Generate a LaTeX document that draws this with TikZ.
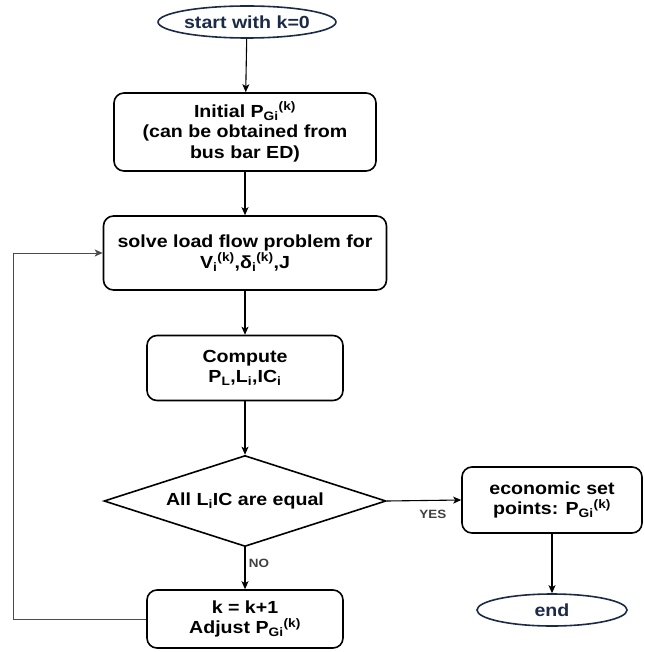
\documentclass[tikz,border=0pt]{standalone}
\usepackage{fontspec}
\setmainfont{Liberation Sans}[FakeStretch=1.12]
\usepackage{xcolor}
\usetikzlibrary{shapes,arrows,positioning,calc,arrows.meta}
\definecolor{termblue}{HTML}{1B2A47}
\newcommand{\PGk}{P\textsubscript{Gi}\textsuperscript{(k)}}

\begin{document}
\begin{tikzpicture}[x=1pt,y=-1pt,
    font=\fontsize{17.5}{20.5}\selectfont\bfseries,
    stepbox/.style={draw, rounded corners=10pt, line width=1.6pt, align=center, inner sep=2pt},
    termnode/.style={draw=termblue, text=termblue, ellipse, line width=1.6pt, minimum width=150pt, minimum height=32pt, inner sep=0pt},
    decision/.style={draw, diamond, aspect=3.1, line width=1.6pt, minimum width=282pt, minimum height=91pt, inner sep=0pt},
    flow/.style={line width=1.1pt, -{Stealth[length=8pt,width=7pt,inset=2pt]}},
    lbl/.style={font=\fontsize{12}{14}\selectfont\bfseries, text=black!75}]
    \useasboundingbox (0,0) rectangle (644,652);
    % main column
    \node[termnode] (start) at (247,22) {start with k=0};
    \node[stepbox, minimum width=262pt, minimum height=78pt] (init) at (245,132) {Initial \PGk\\(can be obtained from\\bus bar ED)};
    \node[stepbox, minimum width=283pt, minimum height=74pt] (solve) at (245,253) {solve load flow problem for\\V\textsubscript{i}\textsuperscript{(k)},δ\textsubscript{i}\textsuperscript{(k)},J};
    \node[stepbox, minimum width=196pt, minimum height=65pt] (comp) at (245,368) {Compute\\P\textsubscript{L},L\textsubscript{i},IC\textsubscript{i}};
    \node[decision] (dec) at (245,501) {All L\textsubscript{i}IC are equal};
    \node[stepbox, minimum width=196pt, minimum height=58pt] (adj) at (245,619) {k = k+1\\Adjust \PGk};
    % exit branch
    \node[stepbox, minimum width=180pt, minimum height=66pt] (eco) at (552,500) {economic set\\points: \PGk};
    \node[termnode] (fin) at (552,610) {end};
    \coordinate (loop) at (13,619);

    \draw[flow] (start) -- (init);
    \draw[flow] (init) -- (solve);
    \draw[flow] (solve) -- (comp);
    \draw[flow] (comp) -- (dec);
    \draw[flow] (dec) -- node[lbl, right, pos=0.38] {NO} (adj);
    \draw[flow] (dec.east) -- node[lbl, below, pos=0.62, yshift=-6pt] {YES} (eco.west);
    \draw[flow] (eco) -- (fin);
    \draw[flow, draw=black!70, line width=1pt] (adj.west) -- (loop) |- (solve.west); % back to load flow
\end{tikzpicture}
\end{document}
